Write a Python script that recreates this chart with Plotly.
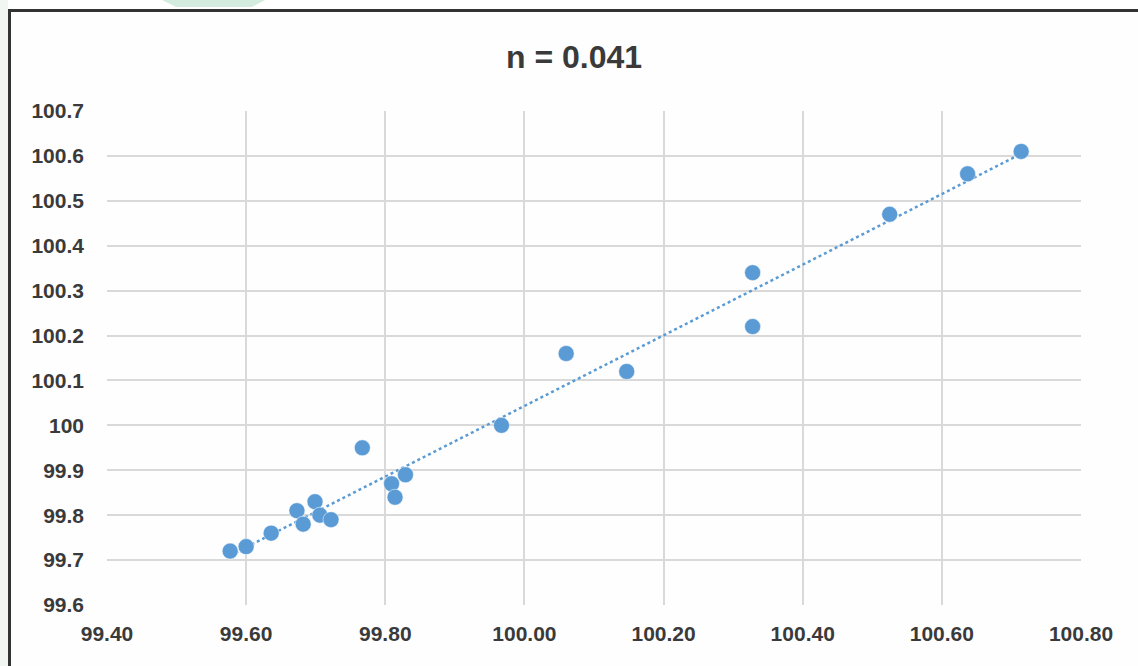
import numpy as np
import plotly.graph_objects as go

# ---- data ----
x_vals = [99.577, 99.600, 99.636, 99.673, 99.699, 99.682, 99.706, 99.722, 99.767, 99.809,
          99.814, 99.829, 99.967, 100.060, 100.147, 100.328, 100.328, 100.525, 100.637, 100.714]
y_vals = [99.72, 99.73, 99.76, 99.81, 99.83, 99.78, 99.80, 99.79, 99.95, 99.87,
          99.84, 99.89, 100.00, 100.16, 100.12, 100.34, 100.22, 100.47, 100.56, 100.61]

x_ticks = [99.40, 99.60, 99.80, 100.00, 100.20, 100.40, 100.60, 100.80]
x_tick_labels = ["99.40", "99.60", "99.80", "100.00", "100.20", "100.40", "100.60", "100.80"]
y_ticks = [99.6, 99.7, 99.8, 99.9, 100.0, 100.1, 100.2, 100.3, 100.4, 100.5, 100.6, 100.7]
y_tick_labels = ["99.6", "99.7", "99.8", "99.9", "100", "100.1", "100.2", "100.3",
                 "100.4", "100.5", "100.6", "100.7"]
title_text = "n = 0.041"

# ---- layout geometry ----
W, H = 1138, 666
L, R, T, B = 107, 57, 111, 61
PW, PH = W - L - R, H - T - B


def px(xp):
    return (xp - L) / PW


def py(yp):
    return (H - B - yp) / PH


BLUE = "#5B9BD5"
TXT = "#3a3a3a"
FONT = "Liberation Sans, Arial, sans-serif"

slope, intercept = np.polyfit(x_vals, y_vals, 1)
tx = [min(x_vals), max(x_vals)]
ty = [slope * v + intercept for v in tx]

fig = go.Figure()
fig.add_trace(go.Scatter(x=tx, y=ty, mode="lines",
                         line=dict(color=BLUE, width=2.5, dash="dot"),
                         hoverinfo="skip", showlegend=False))
fig.add_trace(go.Scatter(x=x_vals, y=y_vals, mode="markers",
                         marker=dict(color=BLUE, size=16, line=dict(color="white", width=0.5)),
                         showlegend=False))

shapes = [
    # light strip at left outside frame
    dict(type="rect", xref="paper", yref="paper", x0=px(-2), x1=px(8), y0=py(H + 5), y1=py(-5),
         fillcolor="#f1f6f3", line=dict(width=0), layer="below"),
    # green shape at top
    dict(type="path", xref="paper", yref="paper",
         path=f"M {px(160)} {py(-1)} L {px(267)} {py(-1)} L {px(252)} {py(7)} L {px(176)} {py(7)} Z",
         fillcolor="#d3ecdf", line=dict(width=0), layer="below"),
    # frame
    dict(type="rect", xref="paper", yref="paper", x0=px(9.5), x1=px(1160), y0=py(690), y1=py(10.5),
         fillcolor="#fefefe", line=dict(color="#333333", width=3), layer="below"),
]

fig.update_layout(
    width=W, height=H,
    margin=dict(l=L, r=R, t=T, b=B),
    paper_bgcolor="white", plot_bgcolor="rgba(0,0,0,0)",
    font=dict(family=FONT, color=TXT),
    title=dict(text=f"<b>{title_text}</b>", x=574 / W, y=1 - 57 / H, xref="container", yref="container",
               xanchor="center", yanchor="middle", font=dict(size=32, color=TXT)),
    shapes=shapes,
    xaxis=dict(range=[99.4, 100.8], tickvals=x_ticks, ticktext=x_tick_labels,
               showgrid=True, gridcolor="#d9d9d9", gridwidth=2, zeroline=False,
               showline=False, ticks="", ticklabelstandoff=14,
               tickfont=dict(size=21, color=TXT, family=FONT, weight="bold")),
    yaxis=dict(range=[99.6, 100.7], tickvals=y_ticks, ticktext=y_tick_labels,
               showgrid=True, gridcolor="#d9d9d9", gridwidth=2, zeroline=False,
               showline=False, ticks="", ticklabelstandoff=22,
               tickfont=dict(size=21, color=TXT, family=FONT, weight="bold")),
)

fig.write_html("out.html", config={"displayModeBar": False},
               post_script="document.body.style.margin='0';")
